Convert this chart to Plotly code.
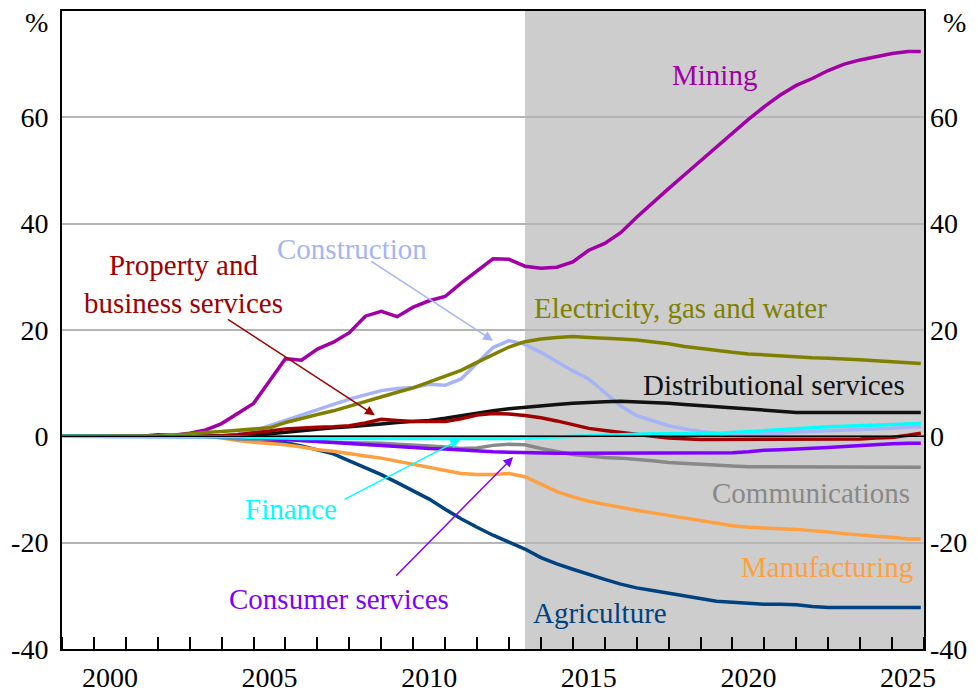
import plotly.graph_objects as go

# half-yearly observations, last point is the end of the projection
years = [1999.0, 1999.5, 2000.0, 2000.5, 2001.0, 2001.5, 2002.0, 2002.5, 2003.0, 2003.5,
         2004.0, 2004.5, 2005.0, 2005.5, 2006.0, 2006.5, 2007.0, 2007.5, 2008.0, 2008.5,
         2009.0, 2009.5, 2010.0, 2010.5, 2011.0, 2011.5, 2012.0, 2012.5, 2013.0, 2013.5,
         2014.0, 2014.5, 2015.0, 2015.5, 2016.0, 2016.5, 2017.0, 2017.5, 2018.0, 2018.5,
         2019.0, 2019.5, 2020.0, 2020.5, 2021.0, 2021.5, 2022.0, 2022.5, 2023.0, 2023.5,
         2024.0, 2024.5, 2025.0, 2025.5, 2025.9]

mining = [0, 0, 0, 0, 0, 0, 0.3, 0.2, 0.6, 1.2,
          2.4, 4.3, 6.2, 10.4, 14.6, 14.3, 16.4, 17.7, 19.5, 22.6,
          23.5, 22.5, 24.3, 25.5, 26.3, 28.8, 31.0, 33.4, 33.3, 32.0,
          31.6, 31.8, 32.8, 35.0, 36.3, 38.3, 41.2, 44.0, 46.6, 49.2,
          51.8, 54.4, 57.1, 59.6, 62.0, 64.2, 66.0, 67.3, 68.8, 70.0,
          70.8, 71.4, 72.0, 72.4, 72.4]
construction = [0, 0, 0, 0, 0, 0, 0, 0, 0, 0,
                0.1, 0.4, 1.0, 2.0, 3.0, 4.0, 5.1, 6.0, 7.0, 7.8,
                8.6, 9.0, 9.2, 9.8, 9.6, 10.8, 13.7, 16.7, 18.0, 17.3,
                15.8, 14.0, 12.3, 10.8, 8.3, 5.7, 3.9, 2.9, 2.0, 1.4,
                0.9, 0.6, 0.5, 0.5, 0.6, 0.6, 0.8, 0.9, 1.0, 1.1,
                1.2, 1.4, 1.5, 1.7, 1.8]
electricity = [0, 0, 0, 0, 0, 0, 0, 0.2, 0.5, 0.7,
               0.9, 1.1, 1.3, 1.6, 2.6, 3.4, 4.1, 4.8, 5.7, 6.5,
               7.4, 8.3, 9.1, 10.2, 11.3, 12.4, 13.9, 15.4, 16.8, 17.8,
               18.3, 18.6, 18.8, 18.6, 18.5, 18.3, 18.1, 17.8, 17.4, 16.9,
               16.5, 16.1, 15.8, 15.5, 15.3, 15.1, 14.9, 14.8, 14.7, 14.6,
               14.4, 14.2, 14.0, 13.7, 13.7]
distributional = [0, 0, 0, 0, 0, 0, 0, 0, 0, 0,
                  0, 0, 0.2, 0.5, 0.8, 1.1, 1.4, 1.6, 1.8, 2.0,
                  2.3, 2.6, 2.8, 3.0, 3.4, 3.9, 4.3, 4.8, 5.2, 5.5,
                  5.8, 6.0, 6.2, 6.4, 6.5, 6.6, 6.5, 6.3, 6.2, 6.0,
                  5.8, 5.6, 5.3, 5.1, 4.9, 4.7, 4.5, 4.5, 4.5, 4.5,
                  4.5, 4.5, 4.5, 4.5, 4.5]
property_business = [0, 0, 0, 0, 0, 0, 0, 0, 0, 0,
                     0.1, 0.3, 0.6, 1.0, 1.4, 1.6, 1.7, 1.8, 2.0, 2.5,
                     3.2, 3.0, 2.8, 2.8, 2.8, 3.3, 4.0, 4.3, 4.2, 3.9,
                     3.5, 2.9, 2.2, 1.5, 1.1, 0.7, 0.3, 0.0, -0.3, -0.5,
                     -0.6, -0.6, -0.6, -0.6, -0.6, -0.6, -0.6, -0.6, -0.6, -0.6,
                     -0.5, -0.3, -0.2, 0.2, 0.6]
finance = [0, 0, 0, 0, 0, 0, 0, 0, 0, 0,
           -0.1, -0.1, -0.2, -0.2, -0.3, -0.4, -0.4, -0.4, -0.4, -0.4,
           -0.4, -0.4, -0.4, -0.4, -0.4, -0.5, -0.5, -0.4, -0.4, -0.3,
           -0.2, 0.0, 0.1, 0.2, 0.3, 0.4, 0.5, 0.5, 0.5, 0.5,
           0.5, 0.5, 0.7, 0.9, 1.1, 1.3, 1.5, 1.6, 1.8, 1.9,
           2.0, 2.1, 2.2, 2.3, 2.4]
communications = [0, 0, 0, 0, 0, 0, 0, 0, 0, 0,
                  -0.2, -0.5, -0.6, -0.6, -0.6, -0.8, -1.0, -1.1, -1.2, -1.2,
                  -1.3, -1.5, -1.6, -1.8, -2.0, -2.3, -2.2, -1.7, -1.5, -1.6,
                  -2.3, -2.9, -3.4, -3.7, -4.0, -4.1, -4.3, -4.6, -4.9, -5.1,
                  -5.3, -5.5, -5.6, -5.7, -5.7, -5.7, -5.7, -5.8, -5.8, -5.8,
                  -5.8, -5.8, -5.8, -5.8, -5.8]
consumer = [0, 0, 0, 0, 0, 0, 0, 0, 0, 0,
            0, -0.1, -0.3, -0.4, -0.6, -0.8, -1.0, -1.1, -1.3, -1.5,
            -1.7, -1.9, -2.1, -2.3, -2.4, -2.6, -2.8, -2.9, -3.0, -3.1,
            -3.1, -3.2, -3.2, -3.2, -3.2, -3.2, -3.2, -3.2, -3.2, -3.2,
            -3.2, -3.2, -3.1, -2.9, -2.6, -2.5, -2.4, -2.3, -2.1, -1.9,
            -1.7, -1.5, -1.4, -1.3, -1.3]
manufacturing = [0, 0, 0, 0, 0, 0, 0, 0, 0, 0,
                 -0.3, -0.8, -1.1, -1.3, -1.6, -2.0, -2.5, -2.8, -3.3, -3.7,
                 -4.1, -4.7, -5.3, -5.9, -6.5, -7.0, -7.2, -7.2, -7.0, -7.6,
                 -9.0, -10.4, -11.4, -12.2, -12.8, -13.4, -13.9, -14.4, -14.9, -15.4,
                 -15.9, -16.4, -16.8, -17.1, -17.3, -17.4, -17.5, -17.7, -18.0, -18.3,
                 -18.6, -18.8, -19.0, -19.3, -19.3]
agriculture = [0, 0, 0, 0, 0, 0, 0, 0, 0, 0,
               0, -0.3, -0.6, -0.9, -1.2, -1.8, -2.5, -3.3, -4.6, -5.9,
               -7.2, -8.7, -10.2, -11.8, -13.7, -15.5, -17.1, -18.6, -19.9, -21.2,
               -22.8, -24.0, -25.0, -26.0, -26.9, -27.8, -28.5, -29.0, -29.5, -30.1,
               -30.6, -31.0, -31.2, -31.4, -31.6, -31.6, -31.7, -32.0, -32.2, -32.2,
               -32.2, -32.2, -32.2, -32.2, -32.2]

year_labels = ["2000", "2005", "2010", "2015", "2020", "2025"]
year_label_pos = [2000.5, 2005.5, 2010.5, 2015.5, 2020.5, 2025.5]
year_ticks = list(range(1999, 2027))
y_ticks = [-40, -20, 0, 20, 40, 60]
y_tick_text = ["-40", "-20", "0", "20", "40", "60"]
projection_start = 2013.5

FONT = "Liberation Serif"

# drawn bottom first
series = [
    ("Construction", construction, "#a6b4f5"),
    ("Mining", mining, "#a000a6"),
    ("Agriculture", agriculture, "#00427f"),
    ("Manufacturing", manufacturing, "#ffa040"),
    ("Communications", communications, "#888888"),
    ("Consumer services", consumer, "#8000ff"),
    ("Distributional services", distributional, "#111111"),
    ("Property and business services", property_business, "#a00000"),
    ("Electricity, gas and water", electricity, "#808000"),
    ("Finance", finance, "#00ffff"),
]

fig = go.Figure()
for name, vals, col in series:
    fig.add_trace(go.Scatter(x=years, y=vals, mode="lines", name=name,
                             line=dict(color=col, width=3.5)))

# invisible trace to carry the right-hand axis
fig.add_trace(go.Scatter(x=[years[0]], y=[0], yaxis="y2", mode="lines",
                         line=dict(width=0), hoverinfo="skip", showlegend=False))

# projection shading and zero line
fig.add_shape(type="rect", xref="x", yref="paper", x0=projection_start, x1=2026,
              y0=0, y1=1, fillcolor="#cdcdcd", line_width=0, layer="below")
fig.add_shape(type="line", xref="paper", yref="y", x0=0, x1=1, y0=0, y1=0,
              line=dict(color="black", width=1.5), layer="above")

# labels: (text, x, y, colour)
labels = [
    ("Mining", 2019.43, 67.9, "#a000a6"),
    ("Construction", 2008.08, 35.2, "#a6b4f5"),
    ("Property and<br>business services", 2002.8, 28.7, "#a00000"),
    ("Electricity, gas and water", 2018.36, 24.1, "#808000"),
    ("Distributional services", 2021.3, 9.6, "#111111"),
    ("Communications", 2022.46, -10.6, "#888888"),
    ("Manufacturing", 2022.96, -24.5, "#ffa040"),
    ("Agriculture", 2015.85, -33.3, "#00427f"),
    ("Finance", 2006.16, -13.6, "#00ffff"),
    ("Consumer services", 2007.67, -30.6, "#8000ff"),
]
for text, x, y, col in labels:
    fig.add_annotation(x=x, y=y, text=text, showarrow=False,
                       xanchor="center", yanchor="middle",
                       font=dict(family=FONT, size=29, color=col))

# arrows: (tail x, tail y, head x, head y, colour)
arrows = [
    (2008.64, 33.1, 2012.5, 18.0, "#a6b4f5"),
    (2004.15, 22.2, 2008.8, 3.95, "#a00000"),
    (2007.8, -12.0, 2011.47, -0.6, "#00ffff"),
    (2009.42, -26.5, 2013.13, -3.9, "#8000ff"),
]
for ax, ay, x, y, col in arrows:
    fig.add_annotation(x=x, y=y, ax=ax, ay=ay, xref="x", yref="y", axref="x", ayref="y",
                       text="", showarrow=True, arrowhead=2, arrowsize=1.3,
                       arrowwidth=1.5, arrowcolor=col)

for xp in [-0.03, 1.035]:
    fig.add_annotation(x=xp, y=0.982, xref="paper", yref="paper", text="%",
                       showarrow=False, xanchor="center", yanchor="middle",
                       font=dict(family=FONT, size=28, color="black"))

# the page body adds an 8px offset, so the figure is a bit smaller than the window
fig.update_layout(
    width=970, height=685,
    margin=dict(l=54, r=54, t=3, b=44),
    paper_bgcolor="white", plot_bgcolor="white",
    showlegend=False,
    font=dict(family=FONT, size=28, color="black"),
    xaxis=dict(range=[1999, 2026], tickvals=year_label_pos, ticktext=year_labels,
               ticks="", showgrid=False, zeroline=False, automargin=False,
               ticklabelstandoff=2,
               showline=True, linecolor="black", linewidth=2, mirror=True,
               minor=dict(tickvals=year_ticks, ticks="inside", ticklen=12,
                          tickcolor="black", tickwidth=1.5, showgrid=False)),
    yaxis=dict(range=[-40, 80], tickvals=y_ticks, ticktext=y_tick_text, ticks="",
               showgrid=True, gridcolor="#b5b5b5", gridwidth=1.5, zeroline=False,
               automargin=False, ticklabelstandoff=6,
               showline=True, linecolor="black", linewidth=2, mirror=True),
    yaxis2=dict(range=[-40, 80], tickvals=y_ticks, ticktext=y_tick_text, ticks="",
                overlaying="y", side="right", showgrid=False, zeroline=False,
                showline=False, automargin=False, ticklabelstandoff=5),
)

fig.write_html("out.html")
